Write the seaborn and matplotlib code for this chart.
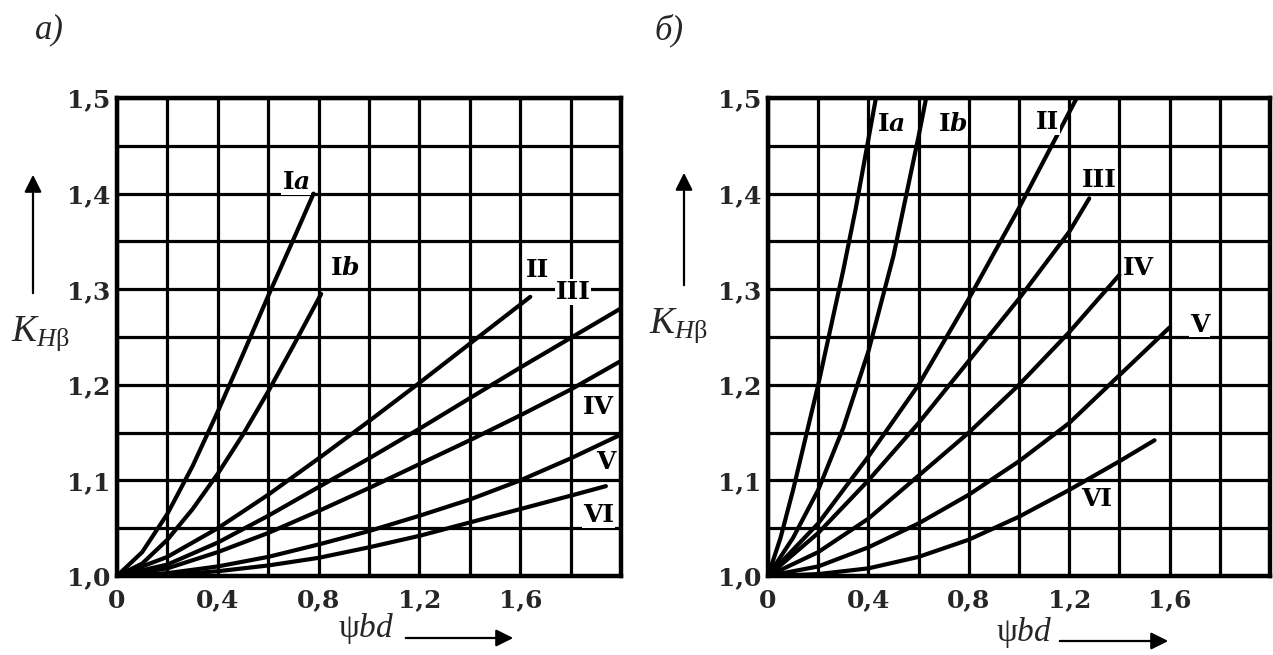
import numpy as np
import pandas as pd
import matplotlib
matplotlib.use("Agg")
import matplotlib.pyplot as plt
import seaborn as sns

# Load-distribution factor K_Hβ versus ψbd, two gear arrangements (а, б)
curve_names = ["Ia", "Ib", "II", "III", "IV", "V", "VI"]

# Panel а
a_Ia_x = [0, 0.1, 0.2, 0.3, 0.4, 0.5, 0.6, 0.7, 0.78]
a_Ia_y = [1.0, 1.025, 1.065, 1.115, 1.172, 1.232, 1.293, 1.352, 1.40]
a_Ib_x = [0, 0.1, 0.2, 0.3, 0.4, 0.5, 0.6, 0.7, 0.81]
a_Ib_y = [1.0, 1.013, 1.038, 1.07, 1.107, 1.148, 1.193, 1.241, 1.295]
a_II_x = [0, 0.2, 0.4, 0.6, 0.8, 1.0, 1.2, 1.4, 1.64]
a_II_y = [1.0, 1.02, 1.05, 1.085, 1.123, 1.162, 1.202, 1.243, 1.292]
a_III_x = [0, 0.2, 0.4, 0.6, 0.8, 1.0, 1.2, 1.4, 1.6, 1.8, 2.0]
a_III_y = [1.0, 1.012, 1.035, 1.063, 1.093, 1.123, 1.154, 1.186, 1.218, 1.249, 1.28]
a_IV_x = [0, 0.2, 0.4, 0.6, 0.8, 1.0, 1.2, 1.4, 1.6, 1.8, 2.0]
a_IV_y = [1.0, 1.008, 1.025, 1.045, 1.068, 1.092, 1.117, 1.142, 1.168, 1.195, 1.225]
a_V_x = [0, 0.2, 0.4, 0.6, 0.8, 1.0, 1.2, 1.4, 1.6, 1.8, 2.0]
a_V_y = [1.0, 1.003, 1.01, 1.02, 1.033, 1.047, 1.063, 1.08, 1.1, 1.123, 1.148]
a_VI_x = [0, 0.2, 0.4, 0.6, 0.8, 1.0, 1.2, 1.4, 1.6, 1.8, 1.94]
a_VI_y = [1.0, 1.001, 1.005, 1.011, 1.019, 1.03, 1.042, 1.056, 1.07, 1.084, 1.094]

# Panel б
b_Ia_x = [0, 0.05, 0.1, 0.15, 0.2, 0.25, 0.3, 0.35, 0.43]
b_Ia_y = [1.0, 1.04, 1.09, 1.145, 1.2, 1.26, 1.32, 1.385, 1.5]
b_Ib_x = [0, 0.1, 0.2, 0.3, 0.4, 0.5, 0.6, 0.63]
b_Ib_y = [1.0, 1.04, 1.09, 1.155, 1.235, 1.335, 1.46, 1.5]
b_II_x = [0, 0.2, 0.4, 0.6, 0.8, 1.0, 1.23]
b_II_y = [1.0, 1.055, 1.125, 1.2, 1.29, 1.385, 1.5]
b_III_x = [0, 0.2, 0.4, 0.6, 0.8, 1.0, 1.2, 1.28]
b_III_y = [1.0, 1.045, 1.1, 1.16, 1.225, 1.29, 1.36, 1.395]
b_IV_x = [0, 0.2, 0.4, 0.6, 0.8, 1.0, 1.2, 1.4]
b_IV_y = [1.0, 1.025, 1.06, 1.105, 1.15, 1.2, 1.255, 1.315]
b_V_x = [0, 0.2, 0.4, 0.6, 0.8, 1.0, 1.2, 1.4, 1.6]
b_V_y = [1.0, 1.01, 1.03, 1.055, 1.085, 1.12, 1.16, 1.21, 1.26]
b_VI_x = [0, 0.2, 0.4, 0.6, 0.8, 1.0, 1.2, 1.4, 1.54]
b_VI_y = [1.0, 1.002, 1.008, 1.02, 1.038, 1.062, 1.09, 1.12, 1.142]

# Curve label anchors (data coordinates)
a_label_x = [0.71, 0.905, 1.67, 1.81, 1.91, 1.94, 1.91]
a_label_y = [1.412, 1.322, 1.32, 1.297, 1.177, 1.119, 1.064]
b_label_x = [0.49, 0.735, 1.115, 1.32, 1.475, 1.72, 1.31]
b_label_y = [1.473, 1.473, 1.475, 1.414, 1.322, 1.263, 1.081]

x_ticks = [0, 0.4, 0.8, 1.2, 1.6]
x_tick_labels = ["0", "0,4", "0,8", "1,2", "1,6"]
y_ticks = [1.0, 1.1, 1.2, 1.3, 1.4, 1.5]
y_tick_labels = ["1,0", "1,1", "1,2", "1,3", "1,4", "1,5"]


def frame(xs, ys):
    rows = []
    for name, x, y in zip(curve_names, xs, ys):
        for xi, yi in zip(x, y):
            rows.append({"curve": name, "psi": xi, "K": yi})
    return pd.DataFrame(rows)


df_a = frame([a_Ia_x, a_Ib_x, a_II_x, a_III_x, a_IV_x, a_V_x, a_VI_x],
             [a_Ia_y, a_Ib_y, a_II_y, a_III_y, a_IV_y, a_V_y, a_VI_y])
df_b = frame([b_Ia_x, b_Ib_x, b_II_x, b_III_x, b_IV_x, b_V_x, b_VI_x],
             [b_Ia_y, b_Ib_y, b_II_y, b_III_y, b_IV_y, b_V_y, b_VI_y])

sns.set_theme(style="white")
plt.rcParams.update({
    "font.family": ["DejaVu Serif"],
    "mathtext.fontset": "custom",
    "mathtext.rm": "Liberation Serif",
    "mathtext.it": "Liberation Serif:italic",
    "mathtext.bf": "DejaVu Serif:bold",
    "mathtext.bfit": "DejaVu Serif:italic:bold",
})

W, H = 1273, 655
fig = plt.figure(figsize=(W / 100, H / 100), dpi=100)
ax_a = fig.add_axes([117 / W, 1 - 576 / H, 504 / W, 478 / H])
ax_b = fig.add_axes([768 / W, 1 - 576 / H, 502 / W, 478 / H])

label_tex = {
    "Ia": r"$\mathbf{I}\mathbfit{a}$",
    "Ib": r"$\mathbf{I}\mathbfit{b}$",
}

palette = {n: "black" for n in curve_names}

for ax, df, lx, ly in [(ax_a, df_a, a_label_x, a_label_y),
                       (ax_b, df_b, b_label_x, b_label_y)]:
    ax.set_xlim(0, 2.0)
    ax.set_ylim(1.0, 1.5)
    # grid every 0.2 in ψbd and 0.05 in K
    ax.set_xticks(np.round(np.arange(0, 2.01, 0.2), 2), minor=True)
    ax.set_yticks(np.round(np.arange(1.0, 1.501, 0.05), 3), minor=True)
    ax.set_xticks(x_ticks)
    ax.set_xticklabels(x_tick_labels)
    ax.set_yticks(y_ticks)
    ax.set_yticklabels(y_tick_labels)
    ax.grid(True, which="both", color="black", linewidth=2.3)
    ax.set_axisbelow(True)
    ax.tick_params(which="both", length=0)
    ax.tick_params(axis="x", pad=9)
    ax.tick_params(axis="y", pad=5)
    for lab in ax.get_xticklabels() + ax.get_yticklabels():
        lab.set_fontsize(18)
        lab.set_fontweight("bold")
        lab.set_fontfamily("DejaVu Serif")
    for sp in ax.spines.values():
        sp.set_linewidth(3.2)
        sp.set_color("black")

    sns.lineplot(data=df, x="psi", y="K", hue="curve", palette=palette,
                 sort=False, estimator=None, linewidth=3.0, legend=False,
                 ax=ax, clip_on=True)
    ax.set_xlabel("")
    ax.set_ylabel("")

    for name, x, y in zip(curve_names, lx, ly):
        ax.text(x, y, label_tex.get(name, name), fontsize=18,
                fontweight="bold", fontfamily="DejaVu Serif",
                ha="center", va="center", color="black",
                bbox=dict(facecolor="white", edgecolor="none", pad=0.5))

# Panel letters
fig.text(49 / W, 1 - 30 / H, "а)", fontsize=25, fontstyle="italic",
         fontfamily="Liberation Serif", ha="center", va="center")
fig.text(669 / W, 1 - 30 / H, "б)", fontsize=25, fontstyle="italic",
         fontfamily="Liberation Serif", ha="center", va="center")

# Axis titles with direction arrows
for ax_x, arr_bottom, arr_top, k_x, k_y in [(33, 296, 172, 40, 334),
                                             (684, 288, 170, 678, 326)]:
    fig.add_artist(matplotlib.patches.FancyArrowPatch(
        (ax_x / W, 1 - arr_bottom / H), (ax_x / W, 1 - arr_top / H),
        transform=fig.transFigure, arrowstyle="-|>", mutation_scale=26,
        linewidth=1.6, color="black"))
    fig.text(k_x / W, 1 - k_y / H, r"$K_{H\mathrm{β}}$", fontsize=27,
             ha="center", va="center")

for psi_x, arr_start, arr_end, yy in [(366, 403, 516, 638),
                                      (1024, 1057, 1171, 641)]:
    fig.text(psi_x / W, 1 - (yy - 9) / H, r"$\mathrm{ψ}\mathit{bd}$",
             fontsize=24, ha="center", va="center")
    fig.add_artist(matplotlib.patches.FancyArrowPatch(
        (arr_start / W, 1 - yy / H), (arr_end / W, 1 - yy / H),
        transform=fig.transFigure, arrowstyle="-|>", mutation_scale=26,
        linewidth=1.6, color="black"))

fig.savefig("out.png", dpi=100, facecolor="white")
